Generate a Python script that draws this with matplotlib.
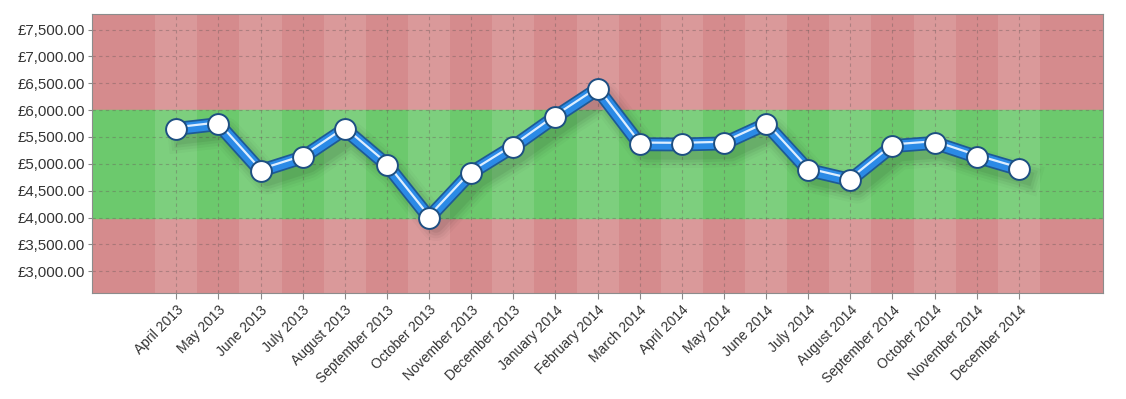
import matplotlib.pyplot as plt
import matplotlib.patheffects as pe
from matplotlib.ticker import FuncFormatter

# meses e valores
meses = ['April 2013', 'May 2013', 'June 2013', 'July 2013', 'August 2013',
         'September 2013', 'October 2013', 'November 2013', 'December 2013',
         'January 2014', 'February 2014', 'March 2014', 'April 2014', 'May 2014',
         'June 2014', 'July 2014', 'August 2014', 'September 2014', 'October 2014',
         'November 2014', 'December 2014']
valores = [5650, 5740, 4870, 5120, 5645, 4980, 4000, 4835, 5320, 5875, 6390,
           5365, 5360, 5380, 5740, 4885, 4700, 5330, 5390, 5130, 4900]

# faixa "ok" (verde) e ticks do eixo y
faixa_min, faixa_max = 4000, 6000
y_ticks = [3000, 3500, 4000, 4500, 5000, 5500, 6000, 6500, 7000, 7500]

fig = plt.figure(figsize=(11.26, 3.99), dpi=100)
ax = fig.add_axes([0.0817, 0.265, 0.898, 0.700])

x = list(range(len(meses)))
ax.set_xlim(-2, 22)
ax.set_ylim(2590, 7790)

# fundo: vermelho + faixa verde
ax.axhspan(2590, 7790, color='#d58b8d', zorder=0)
ax.axhspan(faixa_min, faixa_max, color='#6cc96d', zorder=0.5)
# listras verticais mais claras
for i in x:
    if i % 2 == 0:
        ax.axvspan(i - 0.5, i + 0.5, color='white', alpha=0.12, lw=0, zorder=1)

# grade tracejada
for yv in y_ticks:
    ax.axhline(yv, color='#6a5a5a', alpha=0.4, lw=0.8, ls=(0, (3, 3)), zorder=2)
for i in x:
    ax.axvline(i, color='#6a5a5a', alpha=0.4, lw=0.8, ls=(0, (3, 3)), zorder=2)

# sombra borrada (varias camadas)
sombra = [pe.SimpleLineShadow(offset=(5, -6), shadow_color='black', alpha=a, linewidth=lw)
          for lw, a in [(22, 0.025), (18, 0.035), (14, 0.045), (10, 0.055)]]
ax.plot(x, valores, color='none', lw=1, zorder=3, path_effects=sombra)

# linha azul com contorno e brilho
ax.plot(x, valores, color='#1d5a96', lw=10, solid_joinstyle='miter', zorder=4)
ax.plot(x, valores, color='#2b8ae6', lw=7.5, solid_joinstyle='miter', zorder=5)
ax.plot(x, valores, color='#ddeeff', lw=1.6, alpha=0.9, solid_joinstyle='miter', zorder=6,
        path_effects=[pe.Stroke(offset=(0, 1.2), linewidth=1.6, foreground='#ddeeff')])

# marcadores
ax.plot(x, valores, ls='none', marker='o', markersize=15, markerfacecolor='white',
        markeredgecolor='#1d4f82', markeredgewidth=1.4, zorder=7)

# eixos
ax.set_xticks(x)
ax.set_xticklabels(meses, rotation=45, ha='right', rotation_mode='anchor',
                   fontsize=10, color='#333333', family='Liberation Sans')
ax.set_yticks(y_ticks)
ax.yaxis.set_major_formatter(FuncFormatter(lambda v, p: '£{:,.2f}'.format(v)))
for lab in ax.get_yticklabels():
    lab.set_family('Liberation Sans')
ax.tick_params(axis='y', labelsize=10.8, colors='#333333', length=3, color='#888888', pad=2)
ax.tick_params(axis='x', length=4, color='#888888', pad=3)
for s in ax.spines.values():
    s.set_color('#8c8c8c')

fig.savefig('out.png', dpi=100)
